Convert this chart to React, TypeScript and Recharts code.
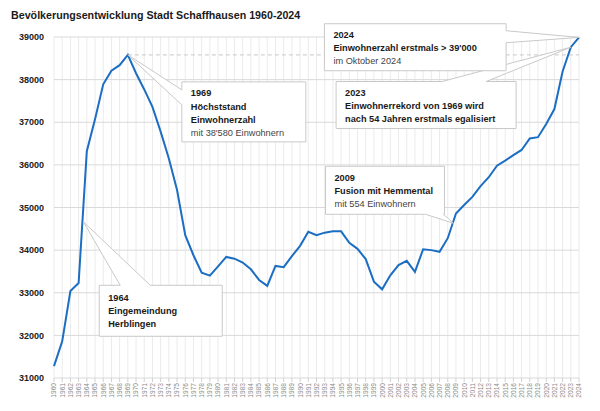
import { LineChart, Line, XAxis, YAxis, CartesianGrid, ReferenceLine, ReferenceDot } from "recharts";

const years = [
  1960, 1961, 1962, 1963, 1964, 1965, 1966, 1967, 1968, 1969,
  1970, 1971, 1972, 1973, 1974, 1975, 1976, 1977, 1978, 1979,
  1980, 1981, 1982, 1983, 1984, 1985, 1986, 1987, 1988, 1989,
  1990, 1991, 1992, 1993, 1994, 1995, 1996, 1997, 1998, 1999,
  2000, 2001, 2002, 2003, 2004, 2005, 2006, 2007, 2008, 2009,
  2010, 2011, 2012, 2013, 2014, 2015, 2016, 2017, 2018, 2019,
  2020, 2021, 2022, 2023, 2024,
];

const population = [
  31280, 31860, 33040, 33230, 36320, 37070, 37890, 38210, 38340, 38580,
  38150, 37770, 37360, 36780, 36150, 35410, 34350, 33880, 33470, 33400,
  33620, 33840, 33800, 33710, 33550, 33300, 33160, 33630, 33600, 33860,
  34100, 34430, 34350, 34410, 34440, 34440, 34170, 34030, 33790, 33260,
  33080, 33410, 33650, 33750, 33490, 34020, 34000, 33960, 34280, 34860,
  35060, 35250, 35500, 35710, 35980, 36100, 36230, 36350, 36620, 36650,
  36960, 37310, 38190, 38760, 38990,
];

const yTicks = [31000, 32000, 33000, 34000, 35000, 36000, 37000, 38000, 39000];
const peakValue = 38580;

const notes = [
  { id: "n1964", year: 1963.6, value: 34660, lines: ["1964", "Eingemeindung", "Herblingen"] },
  { id: "n1969", year: 1969, value: 38580, lines: ["1969", "Höchststand", "Einwohnerzahl", "mit 38'580 Einwohnern"] },
  { id: "n2009", year: 2008.7, value: 34630, lines: ["2009", "Fusion mit Hemmental", "mit 554 Einwohnern"] },
  { id: "n2023", year: 2023, value: 38760, lines: ["2023", "Einwohnerrekord von 1969 wird", "nach 54 Jahren erstmals egalisiert"] },
  { id: "n2024", year: 2024, value: 38990, lines: ["2024", "Einwohnerzahl erstmals > 39'000", "im Oktober 2024"] },
];

const data = years.map((year, i) => ({ year, pop: population[i] }));

// box placement relative to the point the callout points at (pixels)
type Side = "top" | "left" | "right" | "bottom";
const layout: Record<string, { dx: number; dy: number; w: number; h: number; side: Side; a1: number; a2: number; strong: number; ty: number }> = {
  n1964: { dx: 15.7, dy: 63.3, w: 123, h: 51, side: "top", a1: 21, a2: 51, strong: 3, ty: 15.5 },
  n1969: { dx: 54, dy: 27, w: 124, h: 60, side: "left", a1: 8, a2: 23, strong: 3, ty: 14.5 },
  n2009: { dx: -128, dy: -57, w: 119, h: 48, side: "bottom", a1: 100, a2: 118, strong: 2, ty: 14.5 },
  n2023: { dx: -234.7, dy: 34.3, w: 180, h: 47, side: "top", a1: 106, a2: 150, strong: 3, ty: 14 },
  n2024: { dx: -254.6, dy: -13.7, w: 181.7, h: 47, side: "right", a1: 7, a2: 19, strong: 2, ty: 14 },
};

const FONT = "'Liberation Sans', Arial, sans-serif";

function calloutPath(x: number, y: number, w: number, h: number, side: Side, a1: number, a2: number, tx: number, ty: number) {
  const r = x + w;
  const b = y + h;
  if (side === "top")
    return `M${x},${y}L${x + a1},${y}L${tx},${ty}L${x + a2},${y}L${r},${y}L${r},${b}L${x},${b}Z`;
  if (side === "left")
    return `M${x},${y}L${r},${y}L${r},${b}L${x},${b}L${x},${y + a2}L${tx},${ty}L${x},${y + a1}Z`;
  if (side === "right")
    return `M${x},${y}L${r},${y}L${r},${y + a1}L${tx},${ty}L${r},${y + a2}L${r},${b}L${x},${b}Z`;
  return `M${x},${y}L${r},${y}L${r},${b}L${x + a2},${b}L${tx},${ty}L${x + a1},${b}L${x},${b}Z`;
}

function Callout({ cx, cy, id, lines }: { cx: number; cy: number; id: string; lines: string[] }) {
  const l = layout[id];
  const x = cx + l.dx;
  const y = cy + l.dy;
  return (
    <g>
      <path
        d={calloutPath(x, y, l.w, l.h, l.side, l.a1, l.a2, cx, cy)}
        fill="#ffffff"
        stroke="#c9c9c9"
        strokeWidth={1}
        strokeLinejoin="round"
      />
      {lines.map((t, i) => (
        <text
          key={i}
          x={x + 9}
          y={y + l.ty + i * 13.3}
          fontFamily={FONT}
          fontSize={9.2}
          fontWeight={i < l.strong ? 700 : 400}
          fill={i < l.strong ? "#1a1a1a" : "#444444"}
        >
          {t}
        </text>
      ))}
    </g>
  );
}

function YearTick({ x, y, payload }: any) {
  return (
    <g transform={`translate(${x},${y})`}>
      <text transform="rotate(-90)" textAnchor="end" x={0} y={0} dy={2.4} fontFamily={FONT} fontSize={6.6} fill="#8a8a8a">
        {payload.value}
      </text>
    </g>
  );
}

export default function App() {
  return (
    <div style={{ position: "absolute", left: 0, top: 0, width: 600, height: 411, background: "#fff", fontFamily: FONT }}>
      <svg width={600} height={30} style={{ position: "absolute", left: 0, top: 0 }}>
        <text x={11} y={19} fontFamily={FONT} fontSize={10.7} fontWeight={700} fill="#1a1a1a">
          Bevölkerungsentwicklung Stadt Schaffhausen 1960-2024
        </text>
      </svg>
      <LineChart width={600} height={411} data={data} margin={{ top: 37, right: 21, bottom: 0, left: 0 }}>
        <CartesianGrid horizontal={false} stroke="#ebebeb" />
        <CartesianGrid vertical={false} stroke="#d9d9d9" />
        <XAxis
          type="number"
          dataKey="year"
          domain={[1960, 2024]}
          ticks={years}
          interval={0}
          height={33}
          axisLine={false}
          tickLine={{ stroke: "#d0d0d0" }}
          tickSize={4}
          tickMargin={1}
          tick={<YearTick />}
        />
        <YAxis
          domain={[31000, 39000]}
          ticks={yTicks}
          interval={0}
          width={54}
          axisLine={false}
          tickLine={false}
          tickSize={0}
          tickMargin={10}
          tick={{ fontSize: 9, fontWeight: 700, fill: "#222222", fontFamily: FONT }}
        />
        <ReferenceLine
          segment={[
            { x: 1969, y: peakValue },
            { x: 2024, y: peakValue },
          ]}
          stroke="#c8c8c8"
          strokeDasharray="4 3"
        />
        <Line
          type="linear"
          dataKey="pop"
          stroke="#1b6ec2"
          strokeWidth={2}
          dot={false}
          isAnimationActive={false}
        />
        {notes.map((n) => (
          <ReferenceDot
            key={n.id}
            x={n.year}
            y={n.value}
            ifOverflow="visible"
            shape={(p: any) => <Callout cx={p.cx} cy={p.cy} id={n.id} lines={n.lines} />}
          />
        ))}
      </LineChart>
    </div>
  );
}
